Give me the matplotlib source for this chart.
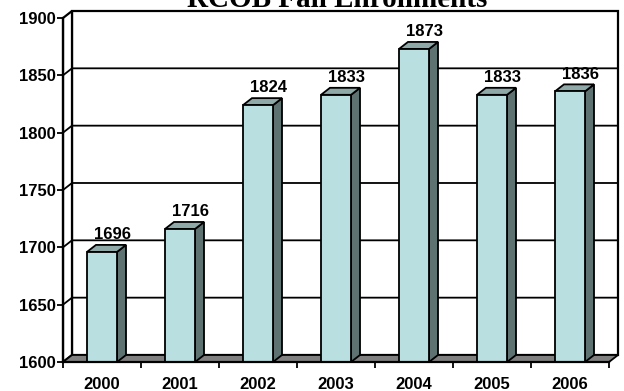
import matplotlib
matplotlib.use('Agg')
import matplotlib.pyplot as plt
from matplotlib.patches import Polygon

years = ['2000', '2001', '2002', '2003', '2004', '2005', '2006']
enrollments = [1696, 1716, 1824, 1833, 1873, 1833, 1836]
yticks = [1600, 1650, 1700, 1750, 1800, 1850, 1900]

front_c = '#BADFE1'
top_c = '#8FA9A9'
side_c = '#5E7272'
floor_c = '#808080'

ymin, ymax = 1600, 1900
x0, x1 = -0.5, len(years) - 0.5
dx, dy = 0.115, 6.1      # depth offset in data units
bw = 0.385

fig = plt.figure(figsize=(6.24, 3.91), dpi=100)
ax = fig.add_axes([0.101, 0.0742, 0.875, 0.8798])
ax.set_xlim(x0, x1)
ax.set_ylim(ymin, ymax)

def poly(pts, fc, z, lw=1.3):
    ax.add_patch(Polygon(pts, closed=True, facecolor=fc, edgecolor='black',
                         linewidth=lw, zorder=z, clip_on=False))

# back wall and left wall
poly([(x0 + dx, ymin + dy), (x1 + dx, ymin + dy), (x1 + dx, ymax + dy), (x0 + dx, ymax + dy)], 'white', 1, 1.6)
poly([(x0, ymin), (x0, ymax), (x0 + dx, ymax + dy), (x0 + dx, ymin + dy)], 'white', 1, 1.6)

# gridlines on walls
for v in yticks[1:-1]:
    ax.plot([x0, x0 + dx, x1 + dx], [v, v + dy, v + dy], color='black', lw=1.3,
            zorder=2, clip_on=False)

# floor
poly([(x0, ymin), (x1, ymin), (x1 + dx, ymin + dy), (x0 + dx, ymin + dy)], floor_c, 3)

# bars
for i, v in enumerate(enrollments):
    l, r = i - bw / 2, i + bw / 2
    poly([(r, ymin), (r, v), (r + dx, v + dy), (r + dx, ymin + dy)], side_c, 4)
    poly([(l, v), (r, v), (r + dx, v + dy), (l + dx, v + dy)], top_c, 4)
    poly([(l, ymin), (r, ymin), (r, v), (l, v)], front_c, 5)
    ax.text(i + dx + 0.02, v + dy + 5, str(v), ha='center', va='baseline',
            fontsize=12, fontweight='bold', family='Liberation Sans', zorder=6)

# axes
for s in ['top', 'right']:
    ax.spines[s].set_visible(False)
for s in ['left', 'bottom']:
    ax.spines[s].set_linewidth(1.6)
    ax.spines[s].set_zorder(7)
ax.set_yticks(yticks)
ax.set_yticklabels([str(t) for t in yticks], fontsize=12, fontweight='bold', family='Liberation Sans')
ax.tick_params(axis='y', direction='out', length=4.5, width=1.3, pad=1)
ax.set_xticks([x0 + k for k in range(len(years) + 1)])
ax.set_xticklabels([])
ax.tick_params(axis='x', which='major', direction='out', length=4.5, width=1.3)
ax.set_xticks(range(len(years)), minor=True)
ax.set_xticklabels(years, minor=True, fontsize=12, fontweight='bold', family='Liberation Sans')
ax.tick_params(axis='x', which='minor', length=0, pad=11)

fig.text(0.54, 0.982, 'RCOB Fall Enrollments', ha='center', va='baseline',
         fontsize=21, fontweight='bold', family='Liberation Serif')

fig.savefig('out.png', dpi=100)
